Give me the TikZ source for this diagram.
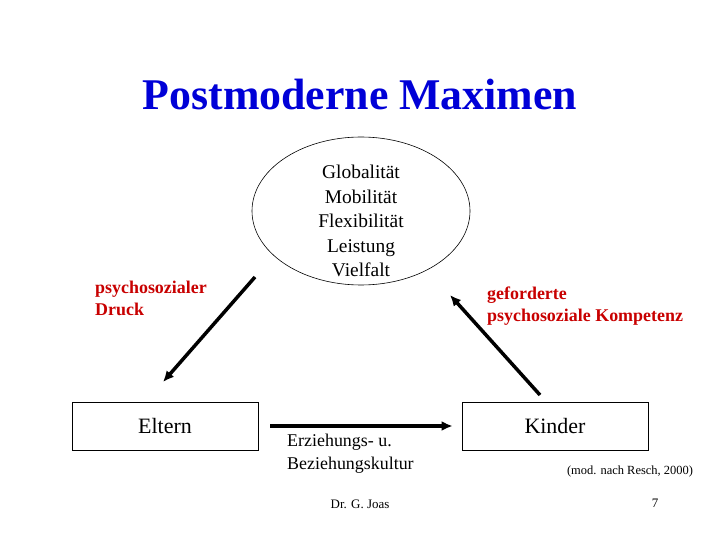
\documentclass[tikz,border=0pt]{standalone}
\usepackage{fontspec}
\setmainfont{Liberation Serif}
\usetikzlibrary{shapes.geometric,arrows.meta}
\definecolor{titleblue}{RGB}{0,0,215}
\definecolor{labelred}{RGB}{200,0,0}
\tikzset{
  boxnode/.style={draw, line width=0.8bp, minimum width=186bp, minimum height=48bp, inner sep=0pt, font=\fontsize{22}{26}\selectfont},
  redlabel/.style={anchor=north west, align=left, inner sep=0pt, text=labelred, font=\fontsize{18}{21.5}\selectfont\bfseries},
  thickarrow/.style={line width=3.5bp, -{Latex[length=11bp,width=10bp]}},
  smalltext/.style={inner sep=0pt, font=\fontsize{13}{15}\selectfont}
}
\begin{document}
\begin{tikzpicture}[x=1bp,y=-1bp]
\useasboundingbox (0,0) rectangle (720,540);
\node[inner sep=0pt, text=titleblue, font=\fontsize{44}{50}\selectfont\bfseries] (title) at (360,95) {Postmoderne Maximen};
\node[draw, ellipse, line width=0.6bp, minimum width=218bp, minimum height=148bp, inner sep=0pt] (ell) at (361,211) {};
\node[align=center, inner sep=0pt, font=\fontsize{19.5}{24.5}\selectfont] (vals) at (361,221) {Globalität\\Mobilität\\Flexibilität\\Leistung\\Vielfalt};
\node[boxnode] (eltern) at (165,426) {Eltern};
\node[boxnode] (kinder) at (555,426) {Kinder};
\node[redlabel] (druck) at (95,281) {psychosozialer\\Druck};
\node[redlabel] (komp) at (487,287) {geforderte\\psychosoziale Kompetenz};
\node[anchor=north west, align=left, inner sep=0pt, font=\fontsize{18}{23}\selectfont] (kultur) at (287,434) {Erziehungs- u.\\Beziehungskultur};
\node[smalltext, font=\fontsize{12.5}{15}\selectfont] (resch) at (630,472) {(mod. nach Resch, 2000)};
\node[smalltext] (autor) at (360,504) {Dr. G. Joas};
\node[smalltext] (page) at (655,503) {7};
\coordinate (ltail) at (255,277);
\coordinate (ltip) at (163,382);
\coordinate (rtail) at (540,395);
\coordinate (rtip) at (450,295);
\draw[thickarrow] (ltail) -- (ltip);
\draw[thickarrow] (rtail) -- (rtip);
\draw[thickarrow, shorten <=12bp, shorten >=9bp] (eltern.east) -- (kinder.west);
\end{tikzpicture}
\end{document}
